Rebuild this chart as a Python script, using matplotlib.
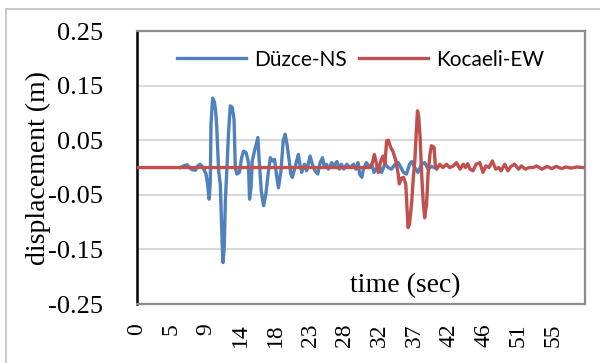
import numpy as np
import matplotlib
matplotlib.use("Agg")
import matplotlib.pyplot as plt
from matplotlib.patches import Rectangle

# ground displacement histories (time in s, displacement in m)
duzce_t = [5.8, 6.4, 6.7, 7.0, 7.35, 7.8, 8.1, 8.4, 8.7, 8.9, 9.2, 9.4, 9.6, 9.75,
           9.85, 10.07, 10.3, 10.46, 10.6, 10.86, 11.08, 11.3, 11.43, 11.6, 11.75,
           11.96, 12.18, 12.4, 12.66, 12.9, 13.06, 13.28, 13.6, 13.9, 14.15, 14.5,
           14.8, 14.95, 15.15, 15.3, 15.6, 16.05, 16.2, 16.5, 16.8, 17.1, 17.4, 17.7,
           18.0, 18.25, 18.56, 18.77, 19.1, 19.4, 19.65, 19.9, 20.2, 20.4, 20.6,
           20.95, 21.4, 21.6, 21.85, 22.2, 22.5, 22.95, 23.25, 23.6, 23.97, 24.27,
           24.6, 24.8, 25.1, 25.37, 25.8, 26.1, 26.5, 26.8, 27.1, 27.4, 27.8, 28.2,
           28.7, 29.0, 29.3, 29.5, 29.8, 30.0, 30.4, 30.8, 31.1, 31.4, 31.8, 32.1,
           32.4, 32.85, 33.3, 33.7, 34.2, 34.6, 34.8, 35.3, 35.7, 36.1, 36.4, 36.8,
           37.2, 37.7, 38.1, 38.55, 39.0, 39.35]
duzce_d = [0.0, 0.004, 0.005, 0.0, -0.004, -0.005, 0.003, 0.006, 0.002, -0.003,
           -0.012, -0.03, -0.058, -0.03, 0.08, 0.127, 0.12, 0.104, 0.077, -0.006,
           -0.03, -0.128, -0.174, -0.147, -0.06, 0.0, 0.067, 0.113, 0.11, 0.088,
           0.0, -0.012, -0.009, 0.018, 0.03, 0.027, 0.009, -0.058, -0.036, 0.012,
           0.03, 0.055, 0.018, -0.043, -0.07, -0.049, -0.012, 0.018, 0.012, 0.015,
           -0.018, -0.037, -0.006, 0.049, 0.061, 0.043, 0.012, -0.012, -0.018, 0.0,
           0.024, 0.006, -0.009, 0.006, -0.006, 0.021, 0.006, -0.006, -0.012, 0.009,
           0.018, 0.003, 0.006, -0.003, 0.009, 0.003, 0.011, -0.003, 0.006, -0.003,
           0.006, 0.0, 0.006, -0.003, 0.009, -0.012, -0.018, -0.003, 0.009, 0.0,
           0.006, -0.009, 0.0, 0.003, -0.009, 0.006, 0.0, -0.003, 0.006, 0.009,
           0.004, -0.009, -0.012, 0.006, 0.011, 0.0, -0.009, 0.006, 0.009, -0.003,
           0.002, 0.0]

kocaeli_t = [0.0, 30.9, 31.2, 31.45, 31.75, 31.96, 32.3, 32.6, 32.85, 33.07, 33.3,
             33.6, 33.9, 34.3, 34.6, 34.75, 35.0, 35.3, 35.6, 35.7, 35.9, 36.1,
             36.4, 36.6, 36.8, 37.0, 37.15, 37.3, 37.5, 37.7, 37.9, 38.1, 38.35,
             38.55, 38.8, 39.0, 39.35, 39.5, 39.7, 40.1, 40.5, 41.0, 41.4, 41.9,
             42.3, 42.8, 43.2, 43.5, 43.8, 44.1, 44.5, 44.9, 45.4, 45.8, 46.2, 46.6,
             47.05, 47.5, 47.9, 48.2, 48.7, 49.1, 49.5, 50.0, 50.5, 50.9, 51.4,
             51.9, 52.5, 52.9, 53.6, 54.3, 54.9, 55.5, 56.2, 56.8, 57.5, 58.2, 59.0]
kocaeli_d = [0.0, 0.0, 0.009, 0.024, 0.006, -0.009, 0.012, 0.021, 0.006, 0.049,
             0.05, 0.037, 0.03, 0.012, -0.012, -0.03, -0.02, -0.018, -0.03, -0.055,
             -0.11, -0.104, -0.061, -0.018, 0.012, 0.067, 0.104, 0.095, 0.055,
             -0.012, -0.061, -0.092, -0.067, -0.012, 0.024, 0.04, 0.037, 0.006,
             -0.003, 0.006, 0.0, 0.006, 0.0, 0.003, 0.009, -0.003, 0.006, 0.0,
             0.007, -0.003, -0.006, 0.006, 0.009, -0.009, 0.003, 0.0, 0.012,
             -0.003, 0.0, -0.006, 0.006, -0.006, 0.002, 0.006, -0.003, 0.003,
             -0.003, 0.0, 0.0, 0.003, -0.003, 0.002, -0.002, 0.002, -0.002, 0.001,
             -0.001, 0.001, 0.0]

time_labels = ['0', '5', '9', '14', '18', '23', '28', '32', '37', '42', '46', '51', '55']
disp_ticks = [-0.25, -0.15, -0.05, 0.05, 0.15, 0.25]

blue = '#4F81BD'
red = '#C0504D'
serif = 'Liberation Serif'

fig = plt.figure(figsize=(6.0, 3.63), dpi=100)
ax = fig.add_axes([0.2275, 0.1625, 0.7475, 0.752])

ax.plot(duzce_t, duzce_d, color=blue, lw=2.4, label='Düzce-NS', zorder=3)
ax.plot(kocaeli_t, kocaeli_d, color=red, lw=2.4, label='Kocaeli-EW', zorder=4)

ax.set_xlim(0, 59.3)
ax.set_ylim(-0.25, 0.25)

ax.set_yticks(disp_ticks)
ax.set_yticklabels(['%.2f' % v for v in disp_ticks], fontsize=19, family=serif)
ax.yaxis.grid(True, color='#D9D9D9', lw=1.5)
ax.set_axisbelow(True)

step = 4.59
ax.set_xticks(np.arange(len(time_labels)) * step)
ax.set_xticklabels(time_labels, rotation=90, fontsize=17, family=serif,
                   va='top')
ax.tick_params(axis='both', length=0)
ax.tick_params(axis='x', pad=14)
ax.tick_params(axis='y', pad=24)

for side in ['top', 'right', 'bottom']:
    ax.spines[side].set_color('#8C8C8C')
    ax.spines[side].set_linewidth(1.6)
ax.spines['left'].set_color('black')
ax.spines['left'].set_linewidth(1.8)

ax.set_ylabel('displacement (m)', fontsize=20, family=serif)
ax.yaxis.set_label_coords(-0.19, 0.5)

ax.text(0.6, 0.02, 'time (sec)', transform=ax.transAxes, ha='center',
        va='bottom', fontsize=20, family=serif)

ax.legend(loc='upper center', bbox_to_anchor=(0.5, 1.0), ncol=2, frameon=False,
          prop={'family': 'Lato', 'size': 15}, handlelength=3.3,
          columnspacing=0.6, handletextpad=0.4)

# chart-area frame
fig.patches.append(Rectangle((6 / 600, -0.1), 1.2, 1 - 9 / 363 + 0.1,
                             transform=fig.transFigure, fill=False,
                             edgecolor='#BFBFBF', lw=1.2))

fig.savefig('out.png', dpi=100)
